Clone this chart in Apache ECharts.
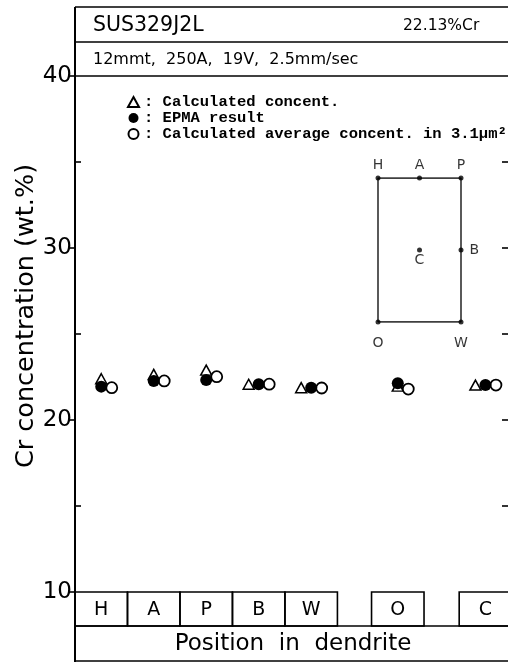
<!DOCTYPE html>
<html>
<head>
<meta charset="utf-8">
<script src="https://cdn.jsdelivr.net/npm/echarts@6/dist/echarts.min.js"></script>
<style>html,body{margin:0;padding:0;background:#fff;}#c{width:508px;height:664px;}</style>
</head>
<body>
<div id="c"></div>
<script>
// ---- data ----
const categories = ['H', 'A', 'P', 'B', 'W', 'O', 'C'];
const catPos = [0.5, 1.5, 2.5, 3.5, 4.5, 6.15, 7.82];           // x value of each position (slot units)
const calcConc = [22.40, 22.65, 22.90, 22.08, 21.88, 21.97, 22.03]; // triangles
const epmaResult = [21.94, 22.27, 22.33, 22.08, 21.88, 22.13, 22.03]; // filled circles
const avgConc = [21.88, 22.27, 22.52, 22.08, 21.86, 21.80, 22.03];  // open circles
const yMajorTicks = [10, 20, 30, 40];
const yMinorTicks = [15, 25, 35];
const yRightTicks = [15, 20, 25, 30, 35];
const insetNames = ['H', 'A', 'P', 'B', 'C', 'O', 'W'];
const insetX = [0, 1, 2, 2, 1, 0, 2];
const insetY = [2, 2, 2, 1, 1, 0, 0];
const insetOutlineX = [0, 0, 2, 2, 0];
const insetOutlineY = [0, 2, 2, 0, 0];

// ---- styles / layout ----
const triDodge = [0, 0, 0, -10, -10, 0, -10];
const openDodge = 10.5;
const SANS = 'DejaVu Sans';
const MONO = 'Liberation Mono';
const xMax = 8.25;
const insetLabelPos = {H:['top',3], A:['top',3], P:['top',3], B:['right',6], C:['bottom',1], O:['bottom',12], W:['bottom',12]};

const chart = echarts.init(document.getElementById('c'), null, {renderer: 'canvas'});

const L = (x1, y1, x2, y2, w) => ({type: 'line', shape: {x1, y1, x2, y2}, style: {stroke: '#000', lineWidth: w || 1.6}, z: 10});
const T = (x, y, text, size, align, rot) => ({type: 'text', x, y, rotation: rot || 0,
  style: {text, fontFamily: SANS, fontSize: size, fill: '#000', align: align || 'left', verticalAlign: 'middle'}, z: 10});

const option = {
  animation: false,
  backgroundColor: '#fff',
  graphic: [
    L(75, 7, 75, 662, 2),
    L(75, 7, 508, 7),
    L(75, 42, 508, 42),
    L(75, 76, 508, 76),
    L(75, 626, 508, 626),
    L(75, 661, 508, 661),
    T(93, 26, 'SUS329J2L', 20.5),
    T(403, 26, '22.13%Cr', 15.5),
    T(93, 60, '12mmt,  250A,  19V,  2.5mm/sec', 16),
    T(293, 644, 'Position  in  dendrite', 23, 'center'),
    T(26, 316, 'Cr concentration (wt.%)', 25.5, 'center', Math.PI / 2)
  ],
  legend: {
    orient: 'vertical', left: 122, top: 89, itemWidth: 11, itemHeight: 10, itemGap: 0,
    selectedMode: false,
    textStyle: {fontFamily: MONO, fontSize: 15.5, fontWeight: 'bold', color: '#000', lineHeight: 16},
    data: [': Calculated concent.', ': EPMA result', ': Calculated average concent. in 3.1μm²']
  },
  grid: [
    {left: 75, top: 76, width: 434, height: 516},
    {left: 75, top: 592, width: 434, height: 34},
    {left: 378, top: 178, width: 83, height: 144}
  ],
  xAxis: [
    {type: 'value', gridIndex: 0, min: 0, max: xMax, show: false},
    {type: 'value', gridIndex: 1, min: 0, max: xMax, show: false},
    {type: 'value', gridIndex: 2, min: 0, max: 2, show: false}
  ],
  yAxis: [
    {type: 'value', gridIndex: 0, position: 'left', min: 10, max: 40, interval: 10,
     axisLine: {show: false},
     axisTick: {show: true, inside: false, length: 6, lineStyle: {color: '#000', width: 1.6}, customValues: yMajorTicks},
     axisLabel: {show: true, color: '#000', fontFamily: SANS, fontSize: 23, margin: 3, customValues: yMajorTicks},
     splitLine: {show: false}},
    {type: 'value', gridIndex: 0, position: 'left', min: 10, max: 40, interval: 5,
     axisLine: {show: false}, axisLabel: {show: false}, splitLine: {show: false},
     axisTick: {show: true, inside: true, length: 6, lineStyle: {color: '#000', width: 1.6}, customValues: yMinorTicks}},
    {type: 'value', gridIndex: 0, position: 'right', min: 10, max: 40, interval: 5,
     axisLine: {show: false}, axisLabel: {show: false}, splitLine: {show: false},
     axisTick: {show: true, inside: true, length: 6, lineStyle: {color: '#000', width: 1.6}, customValues: yRightTicks}},
    {type: 'value', gridIndex: 1, min: 0, max: 1, show: false},
    {type: 'value', gridIndex: 2, min: 0, max: 2, show: false}
  ],
  series: [
    {
      name: ': Calculated concent.', type: 'scatter', xAxisIndex: 0, yAxisIndex: 0, z: 2,
      symbol: 'triangle', symbolSize: [11, 10],
      itemStyle: {color: '#fff', borderColor: '#000', borderWidth: 1.5, opacity: 1},
      data: catPos.map((x, i) => ({value: [x, calcConc[i]], symbolOffset: [triDodge[i], 0]}))
    },
    {
      name: ': Calculated average concent. in 3.1μm²', type: 'scatter', xAxisIndex: 0, yAxisIndex: 0, z: 3,
      symbol: 'circle', symbolSize: 11, symbolOffset: [openDodge, 0],
      itemStyle: {color: '#fff', borderColor: '#000', borderWidth: 1.8, opacity: 1},
      data: catPos.map((x, i) => [x, avgConc[i]])
    },
    {
      name: ': EPMA result', type: 'scatter', xAxisIndex: 0, yAxisIndex: 0, z: 4,
      symbol: 'circle', symbolSize: 12,
      itemStyle: {color: '#000', borderColor: '#000', borderWidth: 0, opacity: 1},
      data: catPos.map((x, i) => [x, epmaResult[i]])
    },
    {
      type: 'custom', xAxisIndex: 1, yAxisIndex: 3, silent: true,
      data: catPos.map((x, i) => [x, i]),
      renderItem: function (params, api) {
        const cx = api.value(0);
        const p0 = api.coord([cx - 0.5, 1]);
        const p1 = api.coord([cx + 0.5, 0]);
        const name = categories[api.value(1)];
        return {
          type: 'group',
          children: [
            {type: 'rect', shape: {x: p0[0], y: p0[1], width: p1[0] - p0[0], height: p1[1] - p0[1]},
             style: {fill: 'none', stroke: '#000', lineWidth: 1.6}},
            {type: 'text', x: (p0[0] + p1[0]) / 2, y: (p0[1] + p1[1]) / 2 + 1,
             style: {text: name, fontFamily: SANS, fontSize: 19, fill: '#000', align: 'center', verticalAlign: 'middle'}}
          ]
        };
      }
    },
    {
      type: 'line', xAxisIndex: 2, yAxisIndex: 4, silent: true, symbol: 'none',
      lineStyle: {color: '#000', width: 1.3},
      data: insetOutlineX.map((x, i) => [x, insetOutlineY[i]])
    },
    {
      type: 'scatter', xAxisIndex: 2, yAxisIndex: 4, silent: true, z: 5,
      symbol: 'circle', symbolSize: 5, itemStyle: {color: '#000'},
      data: insetNames.map((n, i) => ({
        value: [insetX[i], insetY[i]], name: n,
        label: {show: true, formatter: n, position: insetLabelPos[n][0], distance: insetLabelPos[n][1],
                fontFamily: SANS, fontSize: 14, color: '#000'}
      }))
    }
  ]
};
chart.setOption(option);
</script>
</body>
</html>
